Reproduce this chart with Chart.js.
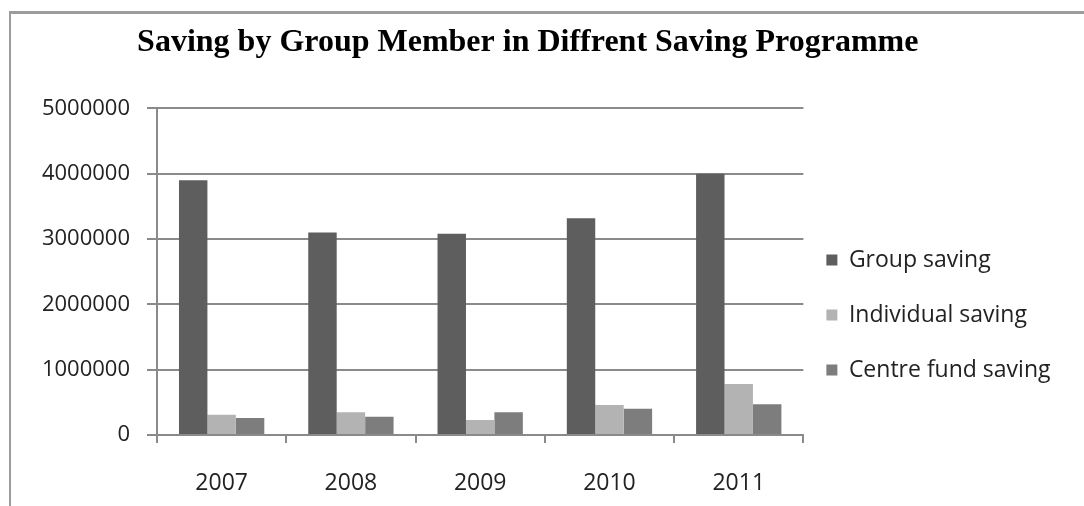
<!DOCTYPE html>
<html>
<head>
<meta charset="utf-8">
<script src="https://cdn.jsdelivr.net/npm/chart.js@4/dist/chart.umd.min.js"></script>
<style>
  html, body { margin: 0; padding: 0; background: #fff; overflow: hidden; }
  #frame {
    position: absolute; left: 9px; top: 11px; width: 1100px; height: 600px;
    border-left: 2px solid #9c9c9c; border-top: 3px solid #9c9c9c;
  }
  #wrap { position: absolute; left: 0; top: 0; width: 1084px; height: 506px; }
</style>
</head>
<body>
<div id="frame"></div>
<div id="wrap"><canvas id="c" width="1084" height="506"></canvas></div>
<script>
// years on the category axis
const years = ["2007", "2008", "2009", "2010", "2011"];

// savings per programme
const groupSaving      = [3900000, 3100000, 3080000, 3320000, 4000000];
const individualSaving = [310000, 350000, 230000, 460000, 780000];
const centreFundSaving = [260000, 280000, 350000, 400000, 470000];

const seriesNames = ["Group saving", "Individual saving", "Centre fund saving"];
const yTicks = [0, 1000000, 2000000, 3000000, 4000000, 5000000];

const gridGrey = "#8a8a8a";
const sansFont = "'Open Sans', 'DejaVu Sans', sans-serif";

// move the title and legend boxes a little after layout
const boxNudge = {
  id: "boxNudge",
  afterLayout(chart, args, opts) {
    const shift = (box, dx, dy) => {
      if (!box) return;
      box.left += dx; box.right += dx;
      box.top += dy; box.bottom += dy;
    };
    shift(chart.titleBlock, opts.titleDx, 0);
    shift(chart.legend, opts.legendDx, opts.legendDy);
  },
};

new Chart(document.getElementById("c"), {
  type: "bar",
  data: {
    labels: years,
    datasets: [
      { label: seriesNames[0], data: groupSaving,      backgroundColor: "#5e5e5e" },
      { label: seriesNames[1], data: individualSaving, backgroundColor: "#b3b3b3" },
      { label: seriesNames[2], data: centreFundSaving, backgroundColor: "#7d7d7d" },
    ],
  },
  plugins: [boxNudge],
  options: {
    responsive: false,
    animation: false,
    layout: { padding: { left: 0, right: 14.5, top: 0, bottom: 0 } },
    datasets: { bar: { categoryPercentage: 0.66, barPercentage: 1.0, borderWidth: 0 } },
    plugins: {
      tooltip: { enabled: false },
      title: {
        display: true,
        text: "Saving by Group Member in Diffrent Saving Programme",
        color: "#000",
        font: { family: "'Liberation Serif', serif", size: 32, weight: "bold" },
        padding: { top: 24, bottom: 46 },
      },
      legend: {
        position: "right",
        maxWidth: 270,
        labels: {
          color: "#222",
          font: { family: sansFont, size: 23 },
          boxWidth: 11,
          boxHeight: 11,
          padding: 32,
        },
      },
      boxNudge: { titleDx: -7, legendDx: -9, legendDy: 62 },
    },
    scales: {
      x: {
        grid: { display: true, drawOnChartArea: false, drawTicks: true, tickLength: 8, color: gridGrey, lineWidth: 2, offset: true },
        border: { display: true, color: gridGrey, width: 2 },
        ticks: { color: "#222", font: { family: sansFont, size: 23 }, padding: 27 },
        afterFit: (axis) => { axis.height = 71; },
      },
      y: {
        min: 0,
        max: 5000000,
        afterBuildTicks: (axis) => { axis.ticks = yTicks.map((v) => ({ value: v })); },
        grid: { color: gridGrey, lineWidth: 2, tickLength: 10 },
        border: { display: true, color: gridGrey, width: 2 },
        ticks: { color: "#222", font: { family: sansFont, size: 22 }, padding: 17, callback: (v) => String(v) },
        afterFit: (axis) => { axis.width = 157; },
      },
    },
  },
});
</script>
</body>
</html>
